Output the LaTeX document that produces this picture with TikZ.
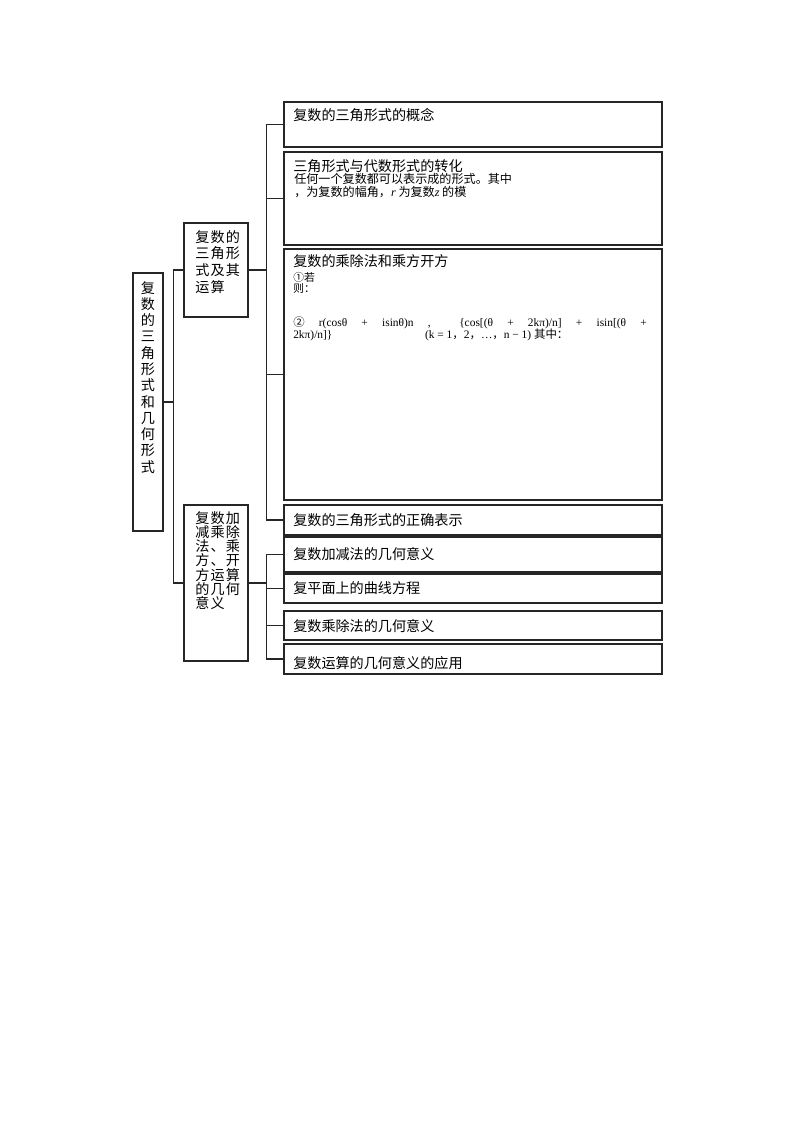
\documentclass[tikz,border=0pt]{standalone}
\usepackage{fontspec}
\setmainfont{Liberation Serif}
\newfontfamily\cjk{Noto Sans CJK SC}
\newfontfamily\cjksp[LetterSpace=8]{Noto Sans CJK SC}
\usetikzlibrary{fit}

\tikzset{
	box/.style={draw=black!85,line width=0.9pt,inner sep=0pt},
	link/.style={draw=black!85,line width=0.8pt},
	ttl/.style={font={\cjk\fontsize{10.5pt}{12pt}\selectfont},anchor=base west,inner sep=0pt},
	sub/.style={font={\cjk\fontsize{9pt}{11pt}\selectfont},anchor=base west,inner sep=0pt},
	small/.style={font={\cjk\fontsize{8pt}{10pt}\selectfont},anchor=base west,inner sep=0pt},
	eq/.style={font={\fontsize{8.5pt}{10pt}\selectfont},anchor=base west,inner sep=0pt},
}

\begin{document}
\begin{tikzpicture}[x=0.74375pt,y=-0.74375pt]
	\useasboundingbox (0,0) rectangle (800,1132);
	
	% root and middle boxes
	\node[box,fit={(133,273) (163,531)}] (root) {};
	\node[font={\cjk\fontsize{10.5pt}{12.1pt}\selectfont},align=center,anchor=north,inner sep=0pt] (rootT) at (148,281)
		{复\\数\\的\\三\\角\\形\\式\\和\\几\\何\\形\\式};
	\node[box,fit={(184,223) (248,317)}] (m1) {};
	\node[font={\cjksp\fontsize{10.5pt}{12.4pt}\selectfont},align=left,anchor=north west,inner sep=0pt] (m1T) at (195,230)
		{复数的\\三角形\\式及其\\运算};
	\node[box,fit={(184,505) (248,661)}] (m2) {};
	\node[font={\cjksp\fontsize{10.5pt}{10.6pt}\selectfont},align=left,anchor=north west,inner sep=0pt] (m2T) at (195,511)
		{复数加\\减乘除\\法、乘\\方、开\\方运算\\的几何\\意义};
	
	% leaf boxes
	\foreach \n/\t/\b in {l1/102/147,l2/152/245,l3/249/500,l4/505/535,
		l5/537/572,l6/574/603,l7/611/640,l8/644/674}
		\node[box,fit={(284,\t) (662,\b)}] (\n) {};
	
	\node[ttl] (t1) at (293,121) {复数的三角形式的概念};
	\node[ttl] (t2) at (293,171.5) {三角形式与代数形式的转化};
	\node[sub] (s2a) at (294,184) {任何一个复数都可以表示成的形式。其中};
	\node[sub] (s2b) at (294,197) {，为复数的幅角，{\rmfamily\itshape r} 为复数{\rmfamily\itshape z} 的模};
	\node[ttl] (t3) at (293,267) {复数的乘除法和乘方开方};
	\node[small] (s3a) at (293,281) {①若};
	\node[small] (s3b) at (293,292) {则：};
	\node[eq] (e3a) at (293,326) {\hbox to 263pt{{\cjk ②}\hfil r(cosθ\hfil+\hfil isinθ)n\hfil,\hfil\hfil\{cos[(θ\hfil+\hfil 2kπ)/n]\hfil+\hfil isin[(θ\hfil+}};
	\node[eq] (e3b) at (293,338) {\makebox[98pt][l]{2kπ)/n]\}}(k = 1{\cjk，}2{\cjk，}…{\cjk，}n − 1) {\cjk 其中：}};
	\node[ttl] (t4) at (293,525) {复数的三角形式的正确表示};
	\node[ttl] (t5) at (293,559) {复数加减法的几何意义};
	\node[ttl] (t6) at (293,593) {复平面上的曲线方程};
	\node[ttl] (t7) at (293,631) {复数乘除法的几何意义};
	\node[ttl] (t8) at (293,668) {复数运算的几何意义的应用};
	
	% connectors
	\draw[link] (root.east) -- ++(10,0) coordinate (j0);
	\draw[link] (m1.west) -| (j0) |- (m2.west);
	\draw[link] (m1.east) -- ++(18,0) coordinate (j1);
	\foreach \n in {l1,l2,l3,l4}
		\draw[link] (j1) |- (\n.west);
	\draw[link] (m2.east) -- ++(18,0) coordinate (j2);
	\foreach \n in {l5,l6,l7,l8}
		\draw[link] (j2) |- (\n.west);
\end{tikzpicture}
\end{document}
